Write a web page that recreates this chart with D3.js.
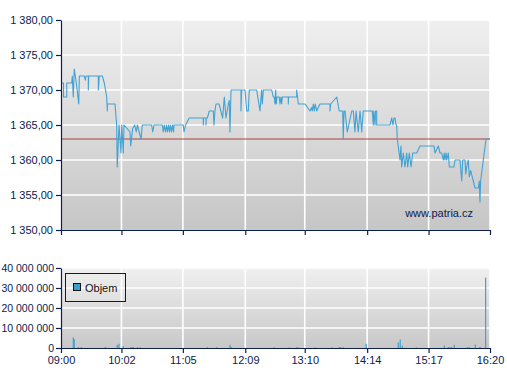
<!DOCTYPE html>
<html>
<head>
<meta charset="utf-8">
<script src="https://cdn.jsdelivr.net/npm/d3@7"></script>
<style>
  html, body { margin: 0; padding: 0; background: #ffffff; }
  svg { display: block; }
  text { font-family: "Liberation Sans", Arial, sans-serif; }
</style>
</head>
<body>
<svg id="chart" width="507" height="380"></svg>
<script>
// ---------- DATA ----------
const timeTickLabels = ["09:00", "10:02", "11:05", "12:09", "13:10", "14:14", "15:17", "16:20"];
const priceTicks = [1350, 1355, 1360, 1365, 1370, 1375, 1380];
const volumeTicks = [0, 10000000, 20000000, 30000000, 40000000];
const referencePrice = 1363;
const legendLabel = "Objem";
const watermark = "www.patria.cz";

// minutes after 09:00
const priceTime = [
  0, 2.6, 2.6, 5.9, 5.9, 11.0, 11.6, 12.6, 13.6, 15.7, 18.2, 18.8, 23.9, 24.9, 25.6, 28.0, 28.0, 28.4,
  38.3, 38.3, 39.3, 42.4, 44.4, 46.9, 47.5, 47.5, 55.4, 57.1, 57.7, 59.5, 61.5, 62.3, 63.9, 64.6,
  70.8, 71.5, 73.5, 75.6, 77.2, 78.3, 82.1, 83.4, 93.0, 94.1, 95.4, 103.9, 104.9, 105.9, 107.2, 108.2,
  109.2, 110.3, 111.3, 112.3, 113.3, 114.4, 115.4, 115.9, 125.4, 126.2, 127.7, 131.6, 145.9, 145.9,
  146.2, 148.7, 148.7, 149.0, 150.1, 152.1, 156.2, 156.9, 157.9, 159.0, 162.1, 165.8, 167.5, 169.2,
  171.6, 172.6, 173.3, 174.4, 184.6, 184.6, 185.3, 188.7, 190.5, 192.1, 193.1, 200.7, 204.1, 205.8,
  206.5, 207.5, 216.1, 217.7, 218.8, 219.5, 220.2, 220.8, 221.5, 223.9, 224.6, 225.6, 226.4, 227.0,
  233.1, 233.1, 233.4, 241.7, 241.7, 243.4, 250.3, 255.4, 257.1, 257.7, 258.8, 259.8, 260.8, 262.3,
  263.9, 265.6, 275.9, 275.9, 276.6, 282.8, 285.4, 286.2, 288.9, 289.5, 290.3, 291.3, 293.6, 298.2,
  299.8, 301.5, 302.6, 304.9, 306.7, 308.4, 310.0, 319.3, 320.3, 320.8, 322.1, 322.6, 323.8, 323.8,
  337.4, 339.2, 340.5, 341.5, 342.6, 343.6, 344.3, 344.9, 345.9, 347.7, 348.7, 349.4, 351.1, 352.8,
  354.6, 355.6, 357.2, 359.0, 360.7, 363.1, 364.8, 368.2, 382.6, 383.6, 387.0, 388.7, 390.5, 392.1,
  393.1, 393.8, 394.9, 395.6, 397.2, 398.3, 403.1, 404.1, 409.2, 411.0, 412.0, 414.4, 415.1, 416.1,
  417.7, 418.8, 420.2, 421.2, 422.9, 424.6, 428.0, 429.0, 429.7, 430.4, 435.9, 440
];
const priceValue = [
  1371, 1371, 1369, 1369, 1371, 1371, 1372, 1369, 1373, 1371, 1368, 1372, 1372, 1371.4, 1372, 1372, 1370, 1372,
  1372, 1370, 1372, 1372, 1371, 1369, 1367, 1368, 1368, 1365, 1359, 1365, 1361, 1365, 1361, 1365,
  1364, 1362, 1364.5, 1365, 1364, 1365, 1363, 1365, 1365, 1364, 1365, 1365, 1364, 1365, 1364, 1365,
  1364, 1365, 1364, 1365, 1364, 1365, 1364, 1365, 1365, 1364, 1365, 1366, 1366, 1365,
  1366, 1366, 1365, 1366, 1366, 1367, 1367, 1365, 1367, 1368, 1368, 1366, 1369, 1366,
  1368, 1368.5, 1364, 1370, 1370, 1367, 1370, 1370, 1367, 1367, 1370, 1370, 1367, 1370,
  1368, 1370, 1370, 1369, 1369, 1368, 1370, 1368, 1369, 1369, 1368, 1369, 1368, 1369,
  1369, 1368, 1369, 1369, 1370, 1368, 1368, 1367, 1367.5, 1367, 1368, 1367, 1368, 1367,
  1367.5, 1368, 1368, 1367, 1368, 1369, 1367, 1367, 1367, 1363, 1367, 1367, 1364, 1367,
  1367, 1364, 1367, 1364, 1367, 1364, 1367, 1367, 1365, 1367, 1365, 1367, 1367, 1365,
  1365, 1366, 1365, 1366, 1366, 1365, 1365, 1363, 1362, 1360, 1362, 1359, 1361, 1359,
  1361, 1359, 1361, 1359, 1361, 1361, 1361, 1362, 1362, 1361, 1362, 1361, 1361, 1360,
  1361, 1360, 1361, 1360, 1361, 1359, 1359, 1360, 1360, 1357, 1360, 1360, 1358, 1359,
  1360, 1357.6, 1358.5, 1357.9, 1357, 1356, 1356, 1357, 1354, 1357, 1363, 1363
];

const volumeTime = [
  12.6, 13.6, 17.7, 20.8, 45.4, 57.7, 59.5, 63.9, 71.5, 73.1, 74.2, 78.3, 81.0, 150.1, 159.7,
  173.3, 174.4, 218.8, 234.2, 241.7, 243.4, 260.8, 278.3, 285.4, 286.9, 289.5, 313.1, 345.9,
  347.9, 350.0, 364.4, 393.1, 397.2, 399.0, 400.7, 403.4, 416.7, 418.8, 424.9, 429.0, 430.4, 435.5
];
const volumeValue = [
  5300000, 4500000, 500000, 500000, 500000, 1600000, 2100000, 1000000, 500000, 500000, 500000, 400000, 400000, 400000, 400000,
  1600000, 600000, 300000, 300000, 400000, 400000, 300000, 300000, 500000, 500000, 400000, 2100000, 2800000,
  4200000, 1200000, 300000, 1200000, 500000, 500000, 500000, 1600000, 400000, 400000, 1700000, 400000, 400000, 35200000
];

// ---------- CHART ----------
const svg = d3.select("#chart");
const navy = "#0c2050";
const lineBlue = "#42a2d3";

const fmtLocale = d3.formatLocale({ decimal: ",", thousands: " ", grouping: [3], currency: ["", ""] });
const fmtPrice = fmtLocale.format(",.2f");
const fmtVol = fmtLocale.format(",d");

const toMin = s => { const [h, m] = s.split(":").map(Number); return h * 60 + m - 540; };
const timeTicks = timeTickLabels.map(toMin);

const x = d3.scaleLinear().domain([0, 440]).range([61, 490]);
const yP = d3.scaleLinear().domain([1350, 1380]).range([230, 20]);
const yV = d3.scaleLinear().domain([0, 40000000]).range([348, 268]);

const defs = svg.append("defs");
function grad(id, c1, c2) {
  const g = defs.append("linearGradient").attr("id", id).attr("x1", 0).attr("y1", 0).attr("x2", 0).attr("y2", 1);
  g.append("stop").attr("offset", "0%").attr("stop-color", c1);
  g.append("stop").attr("offset", "100%").attr("stop-color", c2);
}
grad("bgP", "#efefef", "#c6c6c6");
grad("bgV", "#f0f0f0", "#c8c8c8");

function panel(yScale, ticks, bgId) {
  const [yb, yt] = yScale.range();
  svg.append("rect").attr("x", x.range()[0]).attr("y", yt)
    .attr("width", x.range()[1] - x.range()[0]).attr("height", yb - yt)
    .attr("fill", `url(#${bgId})`);
  const g = svg.append("g").attr("stroke", "#ffffff").attr("stroke-width", 1.6);
  ticks.filter(t => t !== yScale.domain()[0]).forEach(t => {
    g.append("line").attr("x1", x.range()[0]).attr("x2", x.range()[1])
      .attr("y1", yScale(t)).attr("y2", yScale(t));
  });
  timeTicks.filter(t => t !== 0).forEach(t => {
    g.append("line").attr("x1", x(t)).attr("x2", x(t)).attr("y1", yt).attr("y2", yb);
  });
}
panel(yP, priceTicks, "bgP");
panel(yV, volumeTicks, "bgV");

// watermark
svg.append("text").attr("x", 473).attr("y", 216.5).attr("text-anchor", "end")
  .attr("font-size", 11).attr("fill", navy).text(watermark);

// reference line
svg.append("line").attr("x1", x.range()[0]).attr("x2", x.range()[1])
  .attr("y1", yP(referencePrice)).attr("y2", yP(referencePrice))
  .attr("stroke", "#a8403c").attr("stroke-width", 1);

// price line
const priceData = priceTime.map((t, i) => [t, priceValue[i]]);
svg.append("path").datum(priceData)
  .attr("fill", "none").attr("stroke", lineBlue).attr("stroke-width", 1.1)
  .attr("stroke-linejoin", "round")
  .attr("d", d3.line().x(d => x(d[0])).y(d => yP(d[1])));

// volume bars
const volData = volumeTime.map((t, i) => [t, volumeValue[i]]);
svg.append("g").selectAll("rect").data(volData).join("rect")
  .attr("x", d => x(d[0]) - 0.6).attr("width", 1.2)
  .attr("y", d => yV(d[1])).attr("height", d => yV(0) - yV(d[1]))
  .attr("fill", lineBlue);

// axes
function styleAxis(g, size) {
  g.selectAll("path, line").attr("stroke", navy).attr("stroke-width", 1.2);
  g.selectAll("text").attr("fill", navy).attr("font-size", size || 11)
    .attr("font-family", "'Liberation Sans', Arial, sans-serif");
}
svg.append("g").attr("transform", "translate(61,0)")
  .call(d3.axisLeft(yP).tickValues(priceTicks).tickSize(5).tickSizeOuter(0).tickPadding(3).tickFormat(fmtPrice))
  .call(g => styleAxis(g, 11));
svg.append("g").attr("transform", "translate(0,230)")
  .call(d3.axisBottom(x).tickValues(timeTicks).tickSize(5).tickSizeOuter(0).tickFormat(""))
  .call(g => styleAxis(g, 11));
svg.append("g").attr("transform", "translate(61,0)")
  .call(d3.axisLeft(yV).tickValues(volumeTicks).tickSize(5).tickSizeOuter(0).tickPadding(2).tickFormat(fmtVol))
  .call(g => styleAxis(g, 10.5));
svg.append("g").attr("transform", "translate(0,348)")
  .call(d3.axisBottom(x).tickValues(timeTicks).tickSize(5).tickSizeOuter(0).tickPadding(3)
    .tickFormat((d, i) => timeTickLabels[i]))
  .call(g => styleAxis(g, 11));

// legend
const lg = svg.append("g");
lg.append("rect").attr("x", 65.5).attr("y", 273.5).attr("width", 60).attr("height", 28)
  .attr("fill", "none").attr("stroke", "#1a1a1a").attr("stroke-width", 1);
lg.append("rect").attr("x", 73.5).attr("y", 283.5).attr("width", 7).attr("height", 7)
  .attr("fill", "#3b9fd0").attr("stroke", "#111").attr("stroke-width", 1);
lg.append("text").attr("x", 85).attr("y", 292).attr("font-size", 11).attr("fill", "#111").text(legendLabel);
</script>
</body>
</html>
